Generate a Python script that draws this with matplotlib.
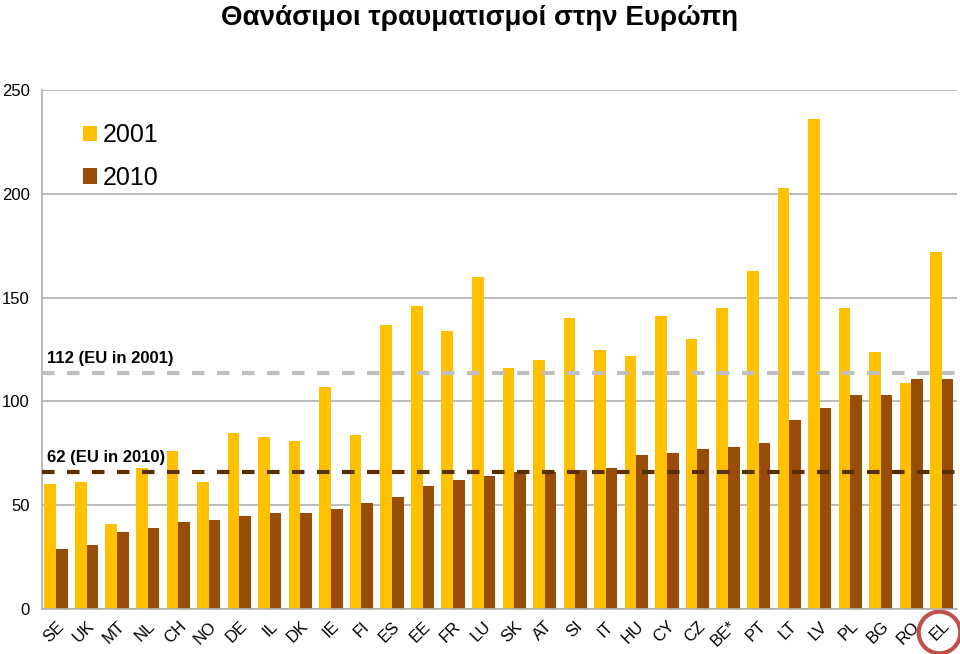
import matplotlib.pyplot as plt
import matplotlib.transforms as mtransforms
import numpy as np

plt.rcParams['font.family'] = ['Liberation Sans', 'DejaVu Sans']

countries = ['SE', 'UK', 'MT', 'NL', 'CH', 'NO', 'DE', 'IL', 'DK', 'IE',
             'FI', 'ES', 'EE', 'FR', 'LU', 'SK', 'AT', 'SI', 'IT', 'HU',
             'CY', 'CZ', 'BE*', 'PT', 'LT', 'LV', 'PL', 'BG', 'RO', 'EL']
deaths_2001 = [60, 61, 41, 68, 76, 61, 85, 83, 81, 107,
               84, 137, 146, 134, 160, 116, 120, 140, 125, 122,
               141, 130, 145, 163, 203, 236, 145, 124, 109, 172]
deaths_2010 = [29, 31, 37, 39, 42, 43, 45, 46, 46, 48,
               51, 54, 59, 62, 64, 66, 66, 67, 68, 74,
               75, 77, 78, 80, 91, 97, 103, 103, 111, 111]
eu_2001 = 113.5
eu_2010 = 66

yellow = '#ffc000'
brown = '#994c06'

fig = plt.figure(figsize=(9.6, 6.54), dpi=100)
ax = fig.add_axes([0.044, 0.069, 0.953, 0.793])

x = np.arange(len(countries))
w = 0.38
ax.bar(x - w / 2, deaths_2001, w, color=yellow, label='2001', zorder=2)
ax.bar(x + w / 2, deaths_2010, w, color=brown, label='2010', zorder=2)

# EU average lines
ax.axhline(eu_2001, color='#bfbfbf', lw=3, dashes=(3, 3), zorder=3)
ax.axhline(eu_2010, color='#5a3000', lw=3, dashes=(3, 3), zorder=3)
ax.text(-0.3, eu_2001 + 5, '112 (EU in 2001)', fontsize=12, fontweight='bold')
ax.text(-0.3, eu_2010 + 5, '62 (EU in 2010)', fontsize=12, fontweight='bold')

ax.set_xlim(-0.45, len(countries) - 0.5)
ax.set_ylim(0, 250)
ax.set_yticks([0, 50, 100, 150, 200, 250])
ax.yaxis.grid(True, color='#b0b0b0', lw=1.2, zorder=0)
ax.set_axisbelow(True)
ax.tick_params(axis='y', length=0, labelsize=12, pad=9)
ax.tick_params(axis='x', length=0, pad=7)
ax.set_xticks(x)
ax.set_xticklabels(countries, rotation=45, ha='right', rotation_mode='anchor',
                   fontsize=12)
for side in ['top', 'right']:
    ax.spines[side].set_visible(False)
for side in ['left', 'bottom']:
    ax.spines[side].set_color('#b0b0b0')
    ax.spines[side].set_linewidth(1.2)

leg = ax.legend(loc='upper left', bbox_to_anchor=(0.02, 0.98), frameon=False,
                fontsize=18, handlelength=0.55, handleheight=0.55,
                handletextpad=0.25, labelspacing=0.75)

# red circle around EL
trans = mtransforms.blended_transform_factory(ax.transData, ax.transAxes)
ax.plot([x[-1] - 0.1], [-0.045], marker='o', markersize=30, mfc='none',
        mec='#c0504d', mew=3, transform=trans, clip_on=False)

fig.suptitle('Θανάσιμοι τραυματισμοί στην Ευρώπη', fontsize=20,
             fontweight='bold', y=0.993)

fig.savefig('out.png', dpi=100)
